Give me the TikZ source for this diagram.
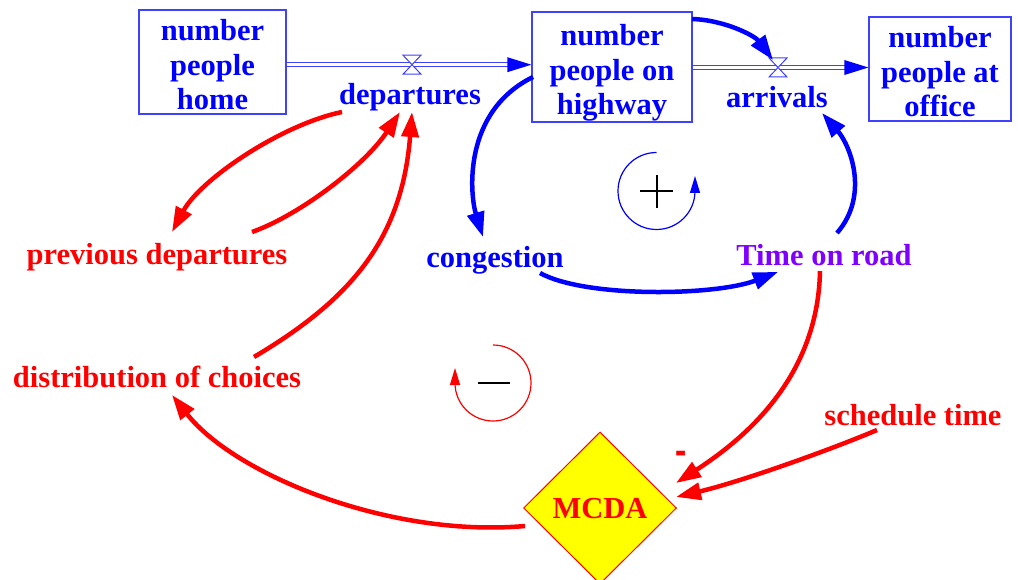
\documentclass[tikz,border=0pt]{standalone}
\usepackage{fontspec}
\usepackage{graphicx}
\setmainfont{Liberation Serif}
\usetikzlibrary{arrows.meta,shapes.geometric}
\definecolor{flowblue}{RGB}{0,0,255}
\definecolor{stockline}{RGB}{64,64,255}
\definecolor{linkred}{RGB}{255,0,0}
\definecolor{timepurple}{RGB}{128,0,255}
\definecolor{mcdayellow}{RGB}{255,255,0}
% three centred lines of a stock name, set a little low in their box
\newcommand{\stocktext}[1]{\raisebox{-6.5pt}[\height][\depth]{\begin{tabular}{@{}c@{}}#1\end{tabular}}}

\begin{document}
\begin{tikzpicture}[x=1pt,y=-1pt,
  bigfont/.style={font=\fontsize{30.5}{34.5}\selectfont\bfseries},
  lbl/.style={bigfont, inner sep=0pt, text height=26pt, text depth=7pt},
  stock/.style={bigfont, draw=stockline, line width=1.3pt, text=flowblue, inner sep=0pt},
  pipe/.style={draw=stockline, double=white, double distance=2.7pt, line width=1.3pt},
  valveshape/.style={draw=stockline, fill=white, line width=1pt},
  link/.style={line width=4.5pt, -{Triangle[length=25pt,width=17pt]}},
  blink/.style={link, draw=flowblue},
  rlink/.style={link, draw=linkred},
  loopline/.style={line width=1.2pt, -{Triangle[length=17pt,width=10pt]}},
]
\useasboundingbox (0,0) rectangle (1018,580);

% stocks
\node[stock, minimum width=147pt, minimum height=104pt] (home) at (212.5,62) {\stocktext{number\\people\\home}};
\node[stock, minimum width=160pt, minimum height=110pt] (hwy) at (612,67) {\stocktext{number\\people on\\highway}};
\node[stock, minimum width=142pt, minimum height=104pt] (office) at (940,69) {\stocktext{number\\people at\\office}};

% valves on the flow pipes
\coordinate (v1) at (412,64.7);
\coordinate (v2) at (778,67.5);

% flow pipes
\draw[pipe, shorten >=22pt] (home.east |- v1) -- (hwy.west |- v1);
\fill[flowblue] (hwy.west |- v1) -- ++(-24,-7.5) -- ++(0,15) -- cycle;
\draw[pipe, shorten >=22pt] (hwy.east |- v2) -- (office.west |- v2);
\fill[flowblue] (office.west |- v2) -- ++(-24,-7.5) -- ++(0,15) -- cycle;

\foreach \v in {v1,v2}{
  \draw[valveshape] (\v) -- ++(-9,-9.5) -- ++(18,0) -- cycle;
  \draw[valveshape] (\v) -- ++(-9,9.5) -- ++(18,0) -- cycle;
}

% variables
\node[lbl, text=flowblue] (dep) at (410,95) {departures};
\node[lbl, text=flowblue] (arr) at (777,98) {arrivals};
\node[lbl, text=flowblue] (cong) at (495,258) {congestion};
\node[lbl, text=timepurple] (tor) at (824,256) {Time on road};
\node[lbl, text=linkred] (prev) at (157,255) {previous departures};
\node[lbl, text=linkred] (dist) at (157,378) {distribution of choices};
\node[lbl, text=linkred] (sched) at (913,416) {schedule time};
\node[lbl, text=linkred] (neg) at (681,457) {\scalebox{1.1}[1.8]{-}};
\node[diamond, draw=linkred, line width=1pt, fill=mcdayellow, bigfont, text=linkred,
      minimum width=153pt, minimum height=152pt, inner sep=0pt,
      text height=20pt, text depth=0pt] (mcda) at (600,508) {MCDA};

% loop markers
\draw[loopline, draw=flowblue] (656.5,152.5) arc[start angle=270, end angle=0, radius=38.5] -- ++(0,-15);
\draw[line width=2pt] (640,191.5) -- (673,191.5) (656.5,175) -- (656.5,208);
\draw[loopline, draw=linkred] (493,345) arc[start angle=270, end angle=540, radius=38] -- ++(0,-15);
\draw[line width=2pt] (478,383) -- (510,383);

% red causal links
\draw[rlink] ([shift={(-68,17)}]dep.center) .. controls (280,125) and (200,180) .. ([shift={(15,-23)}]prev.center);
\draw[rlink] ([shift={(95,-23)}]prev.center) .. controls (300,215) and (365,165) .. ([shift={(-10,17)}]dep.center);
\draw[rlink] ([shift={(97,-21)}]dist.center) .. controls (350,300) and (402,240) .. ([shift={(2,17)}]dep.center);
\draw[rlink] ([shift={(-75,18)}]mcda.center) .. controls (390,538) and (235,475) .. ([shift={(15,17)}]dist.center);
\draw[rlink] ([shift={(-4,15)}]tor.center) .. controls (818,370) and (755,432) .. ([shift={(76,-25)}]mcda.center);
\draw[rlink] ([shift={(-36,14)}]sched.center) .. controls (830,450) and (740,482) .. ([shift={(76,-11)}]mcda.center);

% blue causal links
\draw[blink] ([shift={(-79,10)}]hwy.center) .. controls (462,112) and (470,195) .. ([shift={(-12,-21)}]cong.center);
\draw[blink] ([shift={(80,-48)}]hwy.center) .. controls (725,20) and (755,36) .. ([shift={(-5,-7.5)}]v2);
\draw[blink] ([shift={(45,15)}]cong.center) .. controls (585,298) and (715,296) .. ([shift={(-46,16)}]tor.center);
\draw[blink] ([shift={(13,-23)}]tor.center) .. controls (870,195) and (850,145) .. ([shift={(45,15)}]arr.center);
\end{tikzpicture}
\end{document}
